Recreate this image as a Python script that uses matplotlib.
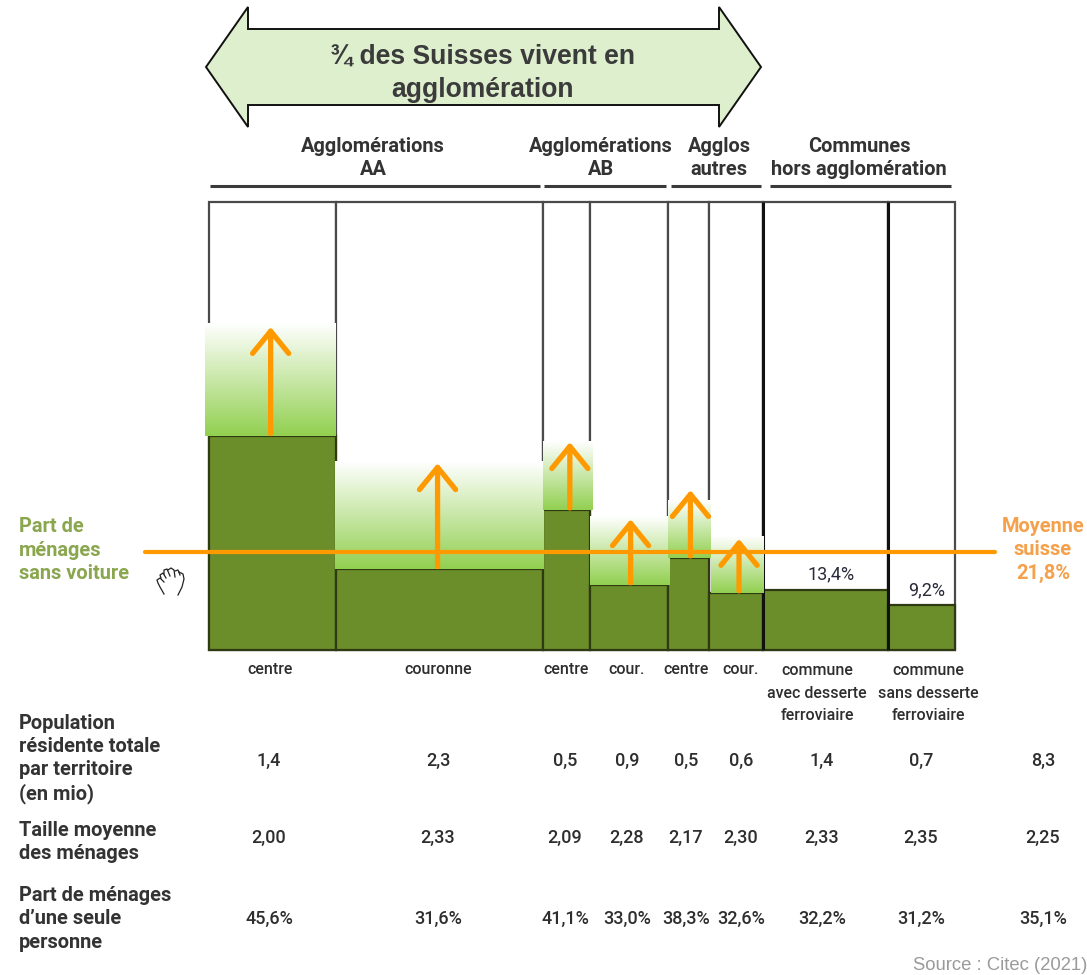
import matplotlib.pyplot as plt
import numpy as np
from matplotlib.colors import LinearSegmentedColormap
from matplotlib.patches import Polygon

W, H = 1087, 975

# column widths = population (mio), heights in %
widths = [1.41, 2.30, 0.52, 0.87, 0.46, 0.60, 1.39, 0.74]
shares = [47.8, 18.1, 31.2, 14.5, 20.5, 12.7, 13.5, 10.0]
grad_tops = [73.0, 42.0, 46.6, 29.7, 33.3, 25.4]
arrow_tops = [72.1, 41.7, 46.4, 29.2, 35.7, 24.8]
mean_share = 21.8

col_names = ['centre', 'couronne', 'centre', 'cour.', 'centre', 'cour.',
             'commune\navec desserte\nferroviaire',
             'commune\nsans desserte\nferroviaire']
population = ['1,4', '2,3', '0,5', '0,9', '0,5', '0,6', '1,4', '0,7', '8,3']
hh_size = ['2,00', '2,33', '2,09', '2,28', '2,17', '2,30', '2,33', '2,35', '2,25']
single = ['45,6%', '31,6%', '41,1%', '33,0%', '38,3%', '32,6%', '32,2%', '31,2%', '35,1%']
groups = ['Agglomérations\nAA', 'Agglomérations\nAB', 'Agglos\nautres',
          'Communes\nhors agglomération']
row_names = ['Population\nrésidente totale\npar territoire\n(en mio)',
             'Taille moyenne\ndes ménages',
             'Part de ménages\nd\u2019une seule\npersonne']

DARK = '#2e2e2e'
GREEN = '#6b8e2a'
ORANGE = '#ff9900'
MONO = 'Roboto'


def ftext(x, y, s, size, **kw):
    kw.setdefault('ha', 'center')
    kw.setdefault('va', 'center')
    kw.setdefault('family', MONO)
    kw.setdefault('color', DARK)
    kw.setdefault('linespacing', 1.2)
    fig.text(x / W, 1 - y / H, s, fontsize=size * 0.72, **kw)


fig = plt.figure(figsize=(W / 100, H / 100), dpi=100)

# full page layer, pixel coordinates, for the big arrow and rules
page = fig.add_axes([0, 0, 1, 1])
page.set_xlim(0, W)
page.set_ylim(H, 0)
page.axis('off')

page.add_patch(Polygon([(206, 67), (248, 7), (248, 29), (719, 29), (719, 7), (761, 67),
                        (719, 127), (719, 105), (248, 105), (248, 127)],
                       closed=True, fc='#deefce', ec='#111111', lw=1.4))
for x0, x1 in [(210, 540), (544, 666), (671, 761), (770, 951)]:
    page.plot([x0, x1], [186, 186], color='#3a3a3a', lw=2.2, solid_capstyle='butt')

# hand icon
for xs, ys in [([164, 160, 158, 157, 160, 164], [594, 587, 583, 580, 578, 582]),
               ([161, 160, 163, 166], [578, 575, 573, 578]),
               ([164, 164, 167, 170], [574, 570, 569, 576]),
               ([168, 171, 174, 175], [570, 568, 570, 577]),
               ([175, 178, 180], [571, 570, 575]),
               ([179, 183, 184, 182, 178], [572, 574, 579, 587, 595])]:
    page.plot(xs, ys, color='#222222', lw=0.9)

# main chart
ax = fig.add_axes([209 / W, 1 - 650 / H, (955 - 209) / W, (650 - 202) / H])
total = sum(widths)
ax.set_xlim(0, total)
ax.set_ylim(0, 100)
ax.axis('off')
lefts = np.cumsum([0] + widths[:-1])
centers = lefts + np.array(widths) / 2

ax.bar(lefts, [100] * 8, widths, align='edge', color='white', edgecolor='#4a4a4a', lw=1.6,
       clip_on=False)
ax.bar(lefts, shares, widths, align='edge', color=GREEN, edgecolor='#2f3a12', lw=1.6, zorder=2,
       clip_on=False)
# the two separators of the communes are heavier
ax.vlines(lefts[6:], 0, 100, color='#111111', lw=2.2, zorder=2.5)

cmap = LinearSegmentedColormap.from_list('fade', ['#92d050', '#ffffff'])
gradient = np.linspace(0, 1, 256).reshape(-1, 1)
pad_left = [0.045, 0.01, 0, 0, 0, -0.02]
pad_right = [0, 0.01, 0.03, 0.01, 0.01, 0]
for i in range(6):
    ax.imshow(gradient, cmap=cmap, origin='lower', aspect='auto', zorder=3, clip_on=False,
              extent=(lefts[i] - pad_left[i], lefts[i] + widths[i] + pad_right[i],
                      shares[i], grad_tops[i]))
ax.set_xlim(0, total)
ax.set_ylim(0, 100)

# mean line, runs past both sides of the frame
ax.plot([(145 - 209) / 90, (995 - 209) / 90], [mean_share, mean_share],
        color=ORANGE, lw=3, clip_on=False, zorder=4, solid_capstyle='round')

arrow_shift = [-0.02, -0.02, 0.04, 0.02, 0.02, 0.03]
for i in range(6):
    x = centers[i] + arrow_shift[i]
    ax.annotate('', xy=(x, arrow_tops[i]), xytext=(x, shares[i] + 0.5), zorder=5,
                annotation_clip=False,
                arrowprops=dict(arrowstyle='->,head_length=1.6,head_width=1.3', color=ORANGE,
                                lw=3.8, shrinkA=0, shrinkB=0, mutation_scale=10))

ax.text(centers[6] + 0.06, shares[6] + 3.3, '13,4%', ha='center', va='center',
        family=MONO, fontsize=13, color='#2a2a3a', zorder=6)
ax.text(centers[7] + 0.05, shares[7] + 3.4, '9,2%', ha='center', va='center',
        family=MONO, fontsize=13, color='#2a2a3a', zorder=6)

# texts
ftext(483, 73, '¾ des Suisses vivent en\nagglomération', 26.5, family='Liberation Sans',
      fontweight='bold', color='#3b3b3b', linespacing=1.36)

for x, s in zip([373, 601, 719, 859], groups):
    ftext(x, 158, s, 20, fontweight='bold', color='#333333', linespacing=1.25)

ftext(19, 550, 'Part de\nménages\nsans voiture', 20, ha='left', fontweight='bold',
      color='#8aa64e', linespacing=1.27)
ftext(1043, 550, 'Moyenne\nsuisse\n21,8%', 20, fontweight='bold', color='#f5a04a', linespacing=1.27)

col_x = [270, 438, 566, 627, 686, 741, 817, 928, 1043]
for x, s in zip(col_x, col_names):
    if '\n' in s:
        ftext(x, 693, s, 16, fontweight='medium', linespacing=1.6)
    else:
        ftext(x, 670, s, 16, fontweight='medium')

data_x = [269, 438, 565, 627, 686, 741, 822, 921, 1043]
for row_y, row in zip([761, 838, 919], [population, hh_size, single]):
    for x, s in zip(data_x, row):
        ftext(x, row_y, s, 18, fontweight='medium')

for y, s in zip([759, 842, 919], row_names):
    ftext(19, y, s, 20, ha='left', fontweight='bold', color='#333333', linespacing=1.28)

ftext(913, 966, 'Source : Citec (2021)', 18.5, ha='left', family='Liberation Sans', color='#9a9a9a')

fig.savefig('out.png', dpi=100)
